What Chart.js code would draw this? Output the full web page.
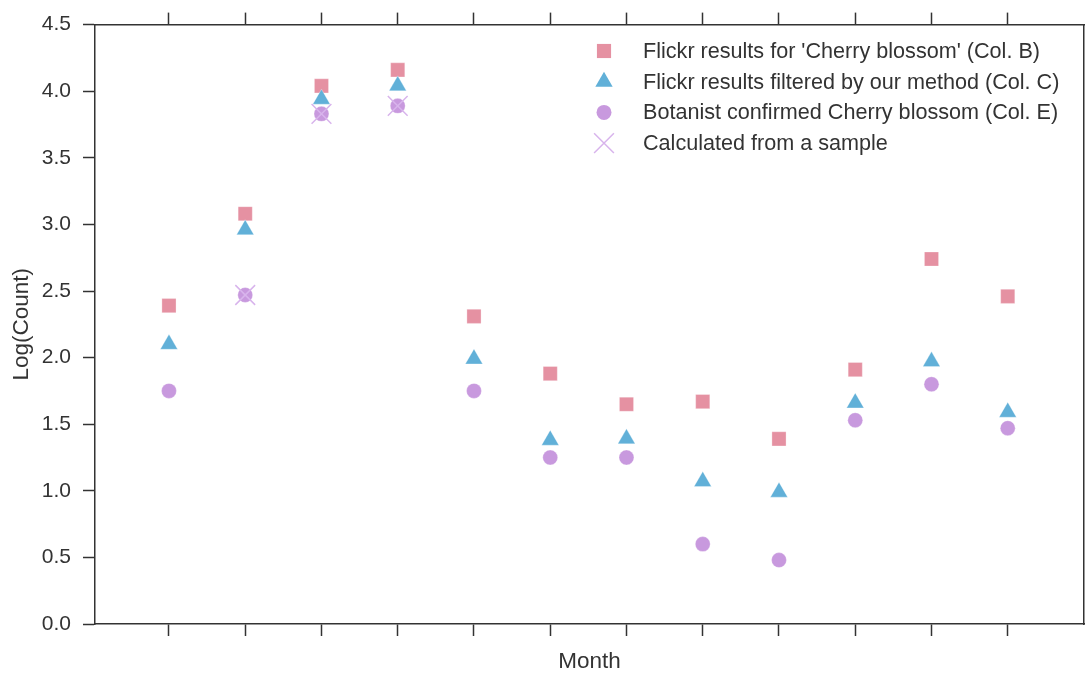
<!DOCTYPE html>
<html>
<head>
<meta charset="utf-8">
<script src="https://cdn.jsdelivr.net/npm/chart.js@4.4.1/dist/chart.umd.min.js"></script>
<style>
  html, body { margin: 0; padding: 0; background: #fff; overflow: hidden; }
  #wrap { position: relative; width: 1086px; height: 675px; }
  canvas { display: block; }
</style>
</head>
<body>
<div id="wrap"><canvas id="myChart"></canvas></div>
<script>
const ctx = document.getElementById('myChart').getContext('2d');

// months along the x axis (tick marks only, no labels)
const months = [1, 2, 3, 4, 5, 6, 7, 8, 9, 10, 11, 12];
// Log(Count) values
const colB = [2.39, 3.08, 4.04, 4.16, 2.31, 1.88, 1.65, 1.67, 1.39, 1.91, 2.74, 2.46];
const colC = [2.10, 2.96, 3.94, 4.04, 1.99, 1.38, 1.39, 1.07, 0.99, 1.66, 1.97, 1.59];
const colE = [1.75, 2.47, 3.83, 3.89, 1.75, 1.25, 1.25, 0.60, 0.48, 1.53, 1.80, 1.47];
const sampleMonths = [2, 3, 4];
const sampleValues = [2.47, 3.83, 3.89];
const yTicks = [0, 0.5, 1, 1.5, 2, 2.5, 3, 3.5, 4, 4.5];

const labels = [
  "Flickr results for 'Cherry blossom' (Col. B)",
  'Flickr results filtered by our method (Col. C)',
  'Botanist confirmed Cherry blossom (Col. E)',
  'Calculated from a sample',
];

const FONT = "'Liberation Sans', Arial, sans-serif";
const FSIZE = 21;
const TEXT = '#333333';
const AXIS = '#333333';

function toPoints(xs, ys) {
  return xs.map((x, i) => ({ x: x, y: ys[i] }));
}

// styles for each series (also used by the legend)
const styles = [
  { pointStyle: 'rect', radius: 10, color: 'rgb(229,145,162)', stroke: false },
  { pointStyle: 'triangle', radius: 10, color: 'rgb(97,176,216)', stroke: false },
  { pointStyle: 'circle', radius: 7.5, color: 'rgb(200,153,222)', stroke: false },
  { pointStyle: 'crossRot', radius: 14, color: 'rgb(216,180,236)', stroke: true },
];

const seriesData = [
  toPoints(months, colB),
  toPoints(months, colC),
  toPoints(months, colE),
  toPoints(sampleMonths, sampleValues),
];

const datasets = seriesData.map((d, i) => ({
  label: labels[i],
  data: d,
  pointStyle: styles[i].pointStyle,
  pointRadius: styles[i].radius,
  pointHoverRadius: styles[i].radius,
  backgroundColor: styles[i].color,
  borderColor: styles[i].stroke ? styles[i].color : 'rgba(255,255,255,0.6)',
  borderWidth: styles[i].stroke ? 1.5 : 0.5,
  order: 4 - i,
}));

function drawMarker(c, st, x, y) {
  const r = st.radius;
  c.save();
  c.fillStyle = st.color;
  c.strokeStyle = st.color;
  c.lineWidth = 1.5;
  c.beginPath();
  if (st.pointStyle === 'rect') {
    const s = r * Math.SQRT1_2;
    c.rect(x - s, y - s, 2 * s, 2 * s);
    c.fill();
  } else if (st.pointStyle === 'triangle') {
    c.moveTo(x, y - r);
    c.lineTo(x + r * Math.sin(2 * Math.PI / 3), y - r * Math.cos(2 * Math.PI / 3));
    c.lineTo(x + r * Math.sin(4 * Math.PI / 3), y - r * Math.cos(4 * Math.PI / 3));
    c.closePath();
    c.fill();
  } else if (st.pointStyle === 'circle') {
    c.arc(x, y, r, 0, Math.PI * 2);
    c.fill();
  } else {
    const s = r * Math.SQRT1_2;
    c.moveTo(x - s, y - s); c.lineTo(x + s, y + s);
    c.moveTo(x - s, y + s); c.lineTo(x + s, y - s);
    c.stroke();
  }
  c.restore();
}

// legend drawn inside the plot, top right
const insideLegend = {
  id: 'insideLegend',
  afterDraw(chart) {
    const c = chart.ctx;
    const mx = 604, tx = 643, y0 = 51, step = 30.7;
    c.save();
    c.font = '21.6px ' + FONT;
    c.textBaseline = 'middle';
    labels.forEach((lab, i) => {
      const y = y0 + i * step;
      drawMarker(c, styles[i], mx, y);
      c.fillStyle = TEXT;
      c.fillText(lab, tx, y + 1);
    });
    c.restore();
  },
};

function setTicks(values) {
  return function (scale) {
    scale.ticks = values.map((v) => ({ value: v }));
  };
}

const tickGrid = { drawOnChartArea: false, drawTicks: true, tickLength: 12, tickWidth: 1.5, tickColor: AXIS };
const axisBorder = { display: true, color: AXIS, width: 1.5 };

const myChart = new Chart(ctx, {
  type: 'scatter',
  data: { datasets: datasets },
  options: {
    responsive: true,
    maintainAspectRatio: false,
    animation: false,
    layout: { padding: 0, autoPadding: false },
    plugins: {
      legend: { display: false },
      tooltip: { enabled: false },
    },
    scales: {
      x: {
        type: 'linear',
        position: 'bottom',
        min: 0.03,
        max: 13,
        afterBuildTicks: setTicks(months),
        afterFit(scale) { scale.height = 51; },
        ticks: { display: false },
        grid: tickGrid,
        border: axisBorder,
        title: { display: true, text: 'Month', color: TEXT, font: { family: FONT, size: 22.5 }, padding: { top: 0, bottom: 0 } },
      },
      x2: {
        type: 'linear',
        position: 'top',
        min: 0.03,
        max: 13,
        afterBuildTicks: setTicks(months),
        afterFit(scale) { scale.height = 22; },
        ticks: { display: false },
        grid: tickGrid,
        border: axisBorder,
      },
      y: {
        type: 'linear',
        position: 'left',
        min: 0,
        max: 4.5,
        afterBuildTicks: setTicks(yTicks),
        afterFit(scale) { scale.width = 95; },
        ticks: {
          color: TEXT,
          padding: 12,
          font: { family: FONT, size: FSIZE },
          callback: (v) => v.toFixed(1),
        },
        grid: tickGrid,
        border: axisBorder,
        title: { display: true, text: 'Log(Count)', color: TEXT, font: { family: FONT, size: 22.5 }, padding: { top: 8.5, bottom: 0 } },
      },
      y2: {
        type: 'linear',
        position: 'right',
        min: 0,
        max: 4.5,
        afterFit(scale) { scale.width = 2; },
        ticks: { display: false },
        grid: { drawOnChartArea: false, drawTicks: false },
        border: axisBorder,
      },
    },
  },
  plugins: [insideLegend],
});
</script>
</body>
</html>
